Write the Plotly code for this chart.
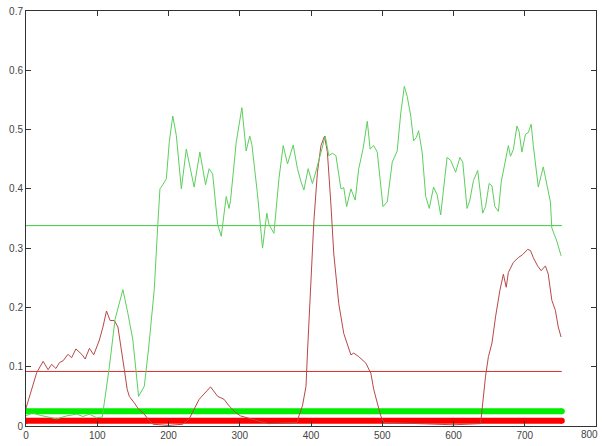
import plotly.graph_objects as go

# ---- data ----
green_x = [0, 9, 20, 33, 43, 57, 71, 80, 89, 99,
           107, 110, 117, 125, 136, 143, 150, 158, 166, 172,
           180, 185, 188, 192, 197, 201, 206, 211, 218, 225,
           229, 236, 244, 252, 257, 262, 269, 274, 281, 285,
           287, 295, 303, 309, 314, 317, 325, 332, 338, 341,
           348, 355, 361, 367, 375, 381, 386, 390, 396, 402,
           407, 414, 420, 425, 430, 435, 442, 446, 450, 456,
           462, 467, 473, 479, 483, 488, 493, 501, 507, 514,
           521, 526, 531, 535, 540, 544, 548, 551, 556, 561,
           566, 572, 577, 582, 591, 596, 603, 609, 613, 619,
           623, 628, 634, 641, 645, 650, 654, 658, 663, 667,
           673, 677, 680, 684, 689, 692, 696, 701, 705, 709,
           712, 719, 726, 731, 736, 738, 745, 751]
green_y = [0.017, 0.022, 0.018, 0.014, 0.012, 0.017, 0.020, 0.016, 0.020, 0.014,
           0.015, 0.040, 0.100, 0.180, 0.230, 0.190, 0.145, 0.050, 0.067, 0.130,
           0.230, 0.340, 0.400, 0.407, 0.417, 0.478, 0.523, 0.490, 0.400, 0.467,
           0.445, 0.403, 0.462, 0.407, 0.434, 0.425, 0.340, 0.320, 0.387, 0.367,
           0.380, 0.478, 0.537, 0.464, 0.489, 0.475, 0.390, 0.300, 0.359, 0.340,
           0.325, 0.417, 0.473, 0.442, 0.474, 0.434, 0.412, 0.398, 0.434, 0.409,
           0.430, 0.464, 0.489, 0.456, 0.460, 0.456, 0.400, 0.402, 0.370, 0.400,
           0.381, 0.434, 0.467, 0.514, 0.467, 0.473, 0.462, 0.370, 0.378, 0.445,
           0.464, 0.528, 0.573, 0.556, 0.523, 0.481, 0.487, 0.498, 0.462, 0.387,
           0.367, 0.403, 0.390, 0.356, 0.453, 0.448, 0.428, 0.453, 0.445, 0.367,
           0.381, 0.414, 0.431, 0.359, 0.370, 0.409, 0.405, 0.370, 0.362, 0.412,
           0.448, 0.473, 0.455, 0.466, 0.506, 0.497, 0.462, 0.492, 0.495, 0.509,
           0.473, 0.403, 0.437, 0.410, 0.378, 0.334, 0.312, 0.287]

red_x = [0, 8, 15, 24, 31, 36, 42, 47, 52, 59,
         64, 70, 75, 79, 83, 89, 95, 103, 108, 113,
         118, 124, 129, 134, 138, 142, 145, 152, 157, 166,
         171, 178, 200, 220, 229, 243, 259, 269, 278, 285,
         294, 301, 340, 381, 383, 388, 393, 395, 400, 404,
         409, 414, 419, 423, 428, 432, 439, 446, 456, 460,
         467, 477, 484, 488, 493, 498, 502, 560, 600, 638,
         640, 645, 649, 654, 659, 665, 670, 674, 677, 684,
         691, 697, 704, 708, 712, 718, 723, 729, 733, 738,
         743, 747, 751]
red_y = [0.030, 0.062, 0.090, 0.109, 0.095, 0.104, 0.097, 0.107, 0.110, 0.121,
         0.115, 0.130, 0.125, 0.120, 0.113, 0.131, 0.120, 0.145, 0.167, 0.194,
         0.178, 0.178, 0.167, 0.131, 0.095, 0.062, 0.050, 0.039, 0.030, 0.020,
         0.012, 0.003, 0.001, 0.003, 0.012, 0.045, 0.066, 0.050, 0.045, 0.034,
         0.023, 0.017, 0.004, 0.006, 0.017, 0.034, 0.067, 0.123, 0.234, 0.345,
         0.428, 0.473, 0.489, 0.462, 0.373, 0.290, 0.206, 0.156, 0.120, 0.123,
         0.117, 0.106, 0.089, 0.062, 0.039, 0.017, 0.006, 0.003, 0.002, 0.004,
         0.028, 0.084, 0.117, 0.140, 0.184, 0.228, 0.256, 0.234, 0.259, 0.276,
         0.284, 0.289, 0.298, 0.296, 0.284, 0.270, 0.262, 0.270, 0.256, 0.212,
         0.195, 0.167, 0.150]

x_span = [0, 752]
green_mean = 0.338
red_mean = 0.092
green_floor = 0.025
red_floor = 0.009

x_ticks = [0, 100, 200, 300, 400, 500, 600, 700, 800]
x_tick_labels = ["0", "100", "200", "300", "400", "500", "600", "700", "800"]
y_ticks = [0, 0.1, 0.2, 0.3, 0.4, 0.5, 0.6, 0.7]
y_tick_labels = ["0", "0.1", "0.2", "0.3", "0.4", "0.5", "0.6", "0.7"]

tick_font = dict(family="Liberation Sans, Arial", size=10, color="#444444")

fig = go.Figure()

# thick baselines
fig.add_trace(go.Scatter(x=x_span, y=[green_floor] * 2, mode="lines+markers",
                         line=dict(color="#00ee00", width=6),
                         marker=dict(color="#00ee00", size=6), hoverinfo="skip"))
fig.add_trace(go.Scatter(x=x_span, y=[red_floor] * 2, mode="lines+markers",
                         line=dict(color="#ff0000", width=6),
                         marker=dict(color="#ff0000", size=6), hoverinfo="skip"))
# mean lines
fig.add_trace(go.Scatter(x=x_span, y=[green_mean] * 2, mode="lines",
                         line=dict(color="#3ccc3c", width=1)))
fig.add_trace(go.Scatter(x=x_span, y=[red_mean] * 2, mode="lines",
                         line=dict(color="#d83030", width=1)))
# curves
fig.add_trace(go.Scatter(x=red_x, y=red_y, mode="lines",
                         line=dict(color="#b84848", width=1)))
fig.add_trace(go.Scatter(x=green_x, y=green_y, mode="lines",
                         line=dict(color="#5ccf5c", width=1)))

axis_common = dict(showgrid=False, zeroline=False, showline=True, mirror="allticks",
                   linecolor="#333333", linewidth=1, ticks="inside", ticklen=5,
                   tickcolor="#333333", tickfont=tick_font, ticklabeloverflow="allow")

fig.update_layout(
    width=602, height=446,
    margin=dict(l=26, r=5, t=7, b=20),
    paper_bgcolor="white", plot_bgcolor="white",
    showlegend=False,
    xaxis=dict(range=[0, 800], tickvals=x_ticks[:-1], ticktext=x_tick_labels[:-1], **axis_common),
    yaxis=dict(range=[0, 0.7], tickvals=y_ticks, ticktext=y_tick_labels, **axis_common),
)
# last x tick label, kept inside the page
fig.add_annotation(x=1, xref="paper", y=0, yref="paper", yanchor="top", yshift=-1,
                   xanchor="right", xshift=4,
                   text=x_tick_labels[-1], showarrow=False, font=tick_font)

# remove the browser's default 8px body margin so the figure sits at the page corner
fig.write_html("out.html", config={"displayModeBar": False},
               post_script="document.body.style.margin='0';")
